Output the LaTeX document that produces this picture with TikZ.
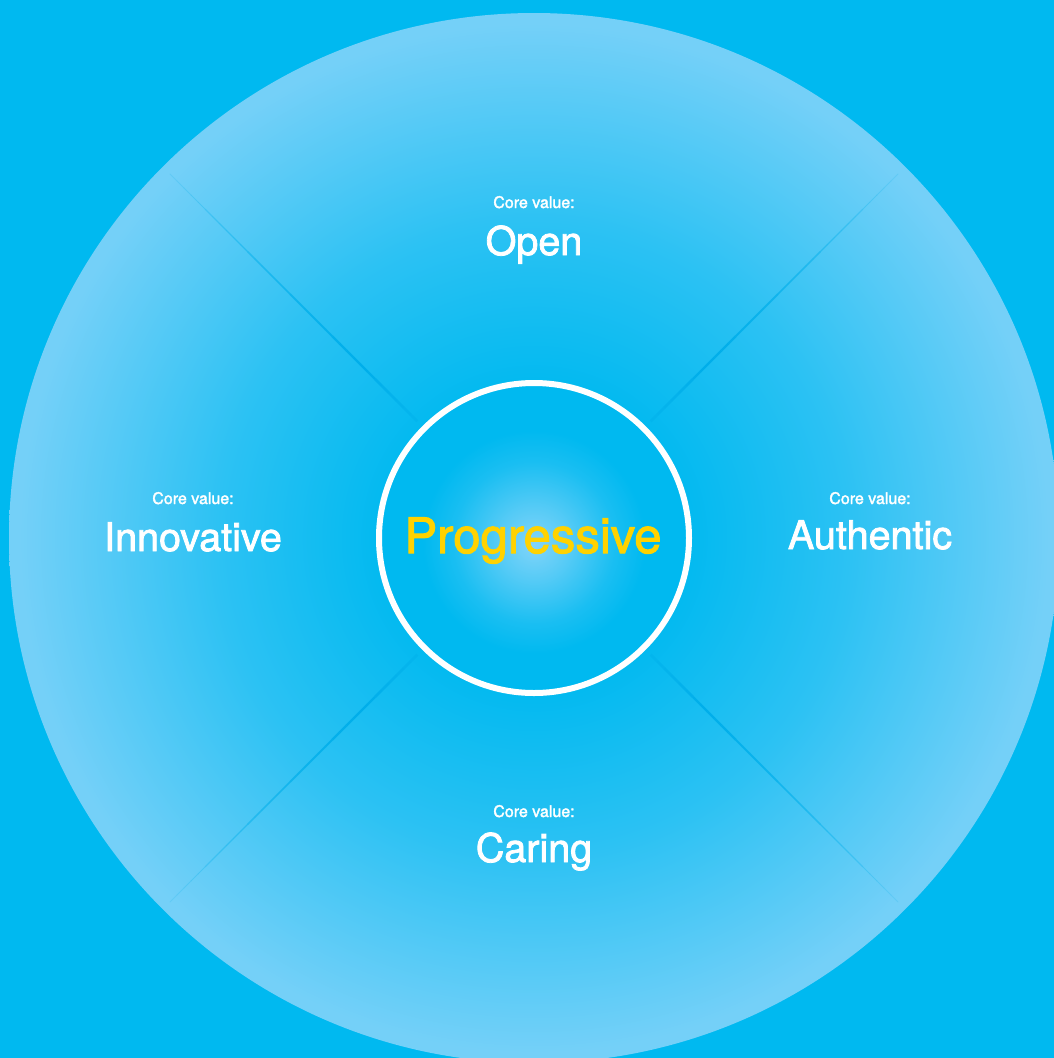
\documentclass[tikz,border=0pt]{standalone}
\usepackage{fontspec}
\setmainfont{TeX Gyre Heros}
\newfontfamily\heavyfont{TeX Gyre Heros}[FakeBold=2]
\definecolor{bgblue}{RGB}{0,185,240}
\definecolor{ringlight}{RGB}{116,208,248}
\definecolor{corelight}{RGB}{130,212,249}
\definecolor{linecol}{RGB}{0,174,234}
\definecolor{progyellow}{RGB}{255,210,0}
\pgfdeclareradialshading{bigdisc}{\pgfpointorigin}{color(0bp)=(bgblue); color(7.5bp)=(bgblue!97!ringlight); color(15bp)=(bgblue!62!ringlight); color(24.5bp)=(ringlight); color(50bp)=(ringlight)}
\pgfdeclareradialshading{coredisc}{\pgfpoint{0bp}{-1bp}}{color(0bp)=(corelight); color(6bp)=(corelight!65!bgblue); color(13bp)=(corelight!20!bgblue); color(18bp)=(bgblue); color(50bp)=(bgblue)}
\tikzset{
  corelabel/.style={text=white, anchor=base, inner sep=0pt, font=\heavyfont\fontsize{16}{18}\selectfont},
  valuelabel/.style={text=white, anchor=base, inner sep=0pt, font=\heavyfont\fontsize{39.5}{44}\selectfont},
  centrelabel/.style={text=progyellow, anchor=base, inner sep=0pt, font=\heavyfont\fontsize{49}{54}\selectfont},
  divider/.style={draw=linecol}
}
\begin{document}
\begin{tikzpicture}[x=1pt,y=-1pt]
\useasboundingbox (0,0) rectangle (1054,1058);
\clip (0,0) rectangle (1054,1058);
\fill[bgblue] (0,0) rectangle (1054,1058);
\coordinate (c) at (534,538);
\shade[shading=bigdisc] (c) circle[radius=525];
% dividers
\begin{scope}[shift={(c)}]
\foreach \a in {45,135,225,315}{
  \foreach \i in {0,...,34}{
    \pgfmathsetmacro{\ra}{165+\i*10}
    \pgfmathsetmacro{\rb}{\ra+10}
    \pgfmathsetmacro{\t}{\i/34}
    \pgfmathsetmacro{\op}{ifthenelse(\t<0.2,0.4+3*\t,1-0.85*(\t-0.2)/0.8)}
    \pgfmathsetmacro{\lw}{2.8-2*\t}
    \draw[divider, line width=\lw pt, draw opacity=\op] (\a:\ra) -- (\a:\rb);
  }
}
\end{scope}
\node[circle, minimum size=310pt, inner sep=0pt, shading=coredisc, draw=white, line width=6pt] (core) at (c) {};
\node[centrelabel] (prog) at (533,553) {Progressive};
\node[corelabel] (openc) at (534,208) {Core value:};
\node[valuelabel] (open) at (534,255) {Open};
\node[corelabel] (innovc) at (193,504) {Core value:};
\node[valuelabel] (innov) at (193,551) {Innovative};
\node[corelabel] (authc) at (870,504) {Core value:};
\node[valuelabel] (auth) at (870,549) {Authentic};
\node[corelabel] (carec) at (534,817) {Core value:};
\node[valuelabel] (care) at (534,862) {Caring};
\end{tikzpicture}
\end{document}
